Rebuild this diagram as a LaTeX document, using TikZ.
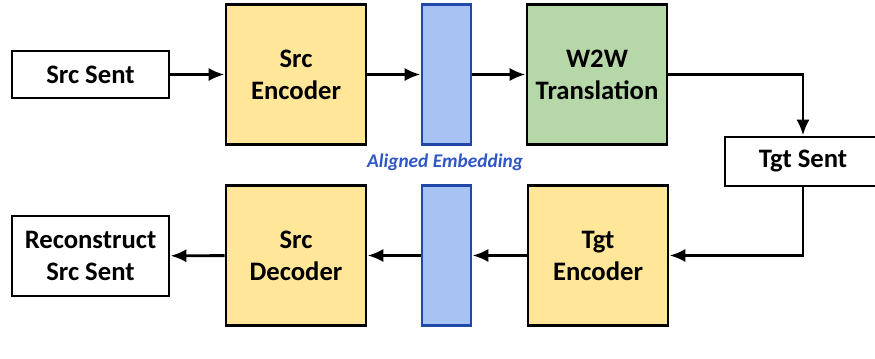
\documentclass[tikz,border=0pt]{standalone}
\usepackage{fontspec}
\setmainfont{Carlito}
\usetikzlibrary{arrows.meta}
\definecolor{gelb}{HTML}{FFE699}
\definecolor{gruen}{HTML}{B6D7A8}
\definecolor{hellblau}{HTML}{A6C3F3}
\definecolor{blaurand}{HTML}{1F48A8}
\definecolor{blautext}{HTML}{2E56C4}
\begin{document}
\begin{tikzpicture}[
      x=0.75pt, y=-0.75pt,
      font=\fontsize{20}{24}\selectfont\bfseries,
      kasten/.style={draw, line width=2.2pt, fill=white, align=center, inner sep=0pt},
      block/.style={kasten, minimum width=105pt, minimum height=104.5pt},
      balken/.style={draw=blaurand, fill=hellblau, line width=2.2pt, minimum width=36.75pt, minimum height=104.5pt, inner sep=0pt},
      pfeil/.style={-{Latex[length=12pt,width=10pt]}, line width=2.2pt}
    ]
      \useasboundingbox (0,0) rectangle (875,358);
      \clip (0,0) rectangle (875,358);
      % obere Reihe
      \node[kasten, minimum width=117.75pt, minimum height=35.25pt] (srcsent) at (90.5,74.5) {Src Sent};
      \node[block, fill=gelb] (srcenc) at (296,74.5) {Src\\Encoder};
      \node[balken] (embtop) at (446.5,74.5) {};
      \node[block, fill=gruen] (w2w) at (597,74.5) {W2W\\Translation};
      \node[kasten, minimum width=117pt, minimum height=36.75pt] (tgtsent) at (803,161.5) {Tgt Sent};
      \node[font=\fontsize{14.5}{17}\selectfont\bfseries\itshape, text=blautext] (emblabel) at (445,162.5) {Aligned Embedding};
      % untere Reihe
      \node[block, fill=gelb, minimum height=105.5pt] (tgtenc) at (598,255.5) {Tgt\\Encoder};
      \node[balken, minimum height=105.5pt] (embbot) at (446.5,255.5) {};
      \node[block, fill=gelb, minimum height=105.5pt] (srcdec) at (296,255.5) {Src\\Decoder};
      \node[kasten, minimum width=117.75pt, minimum height=60pt] (recon) at (90.5,256) {Reconstruct\\Src Sent};
      % Pfeile
      \draw[pfeil] (srcsent) -- (srcenc);
      \draw[pfeil] (srcenc) -- (embtop);
      \draw[pfeil] (embtop) -- (w2w);
      \draw[pfeil] (w2w.east) -| (tgtsent.north);
      \draw[pfeil] (tgtsent.south) |- (tgtenc.east);
      \draw[pfeil] (tgtenc) -- (embbot);
      \draw[pfeil] (embbot) -- (srcdec);
      \draw[pfeil] (srcdec) -- (recon);
    \end{tikzpicture}
\end{document}
